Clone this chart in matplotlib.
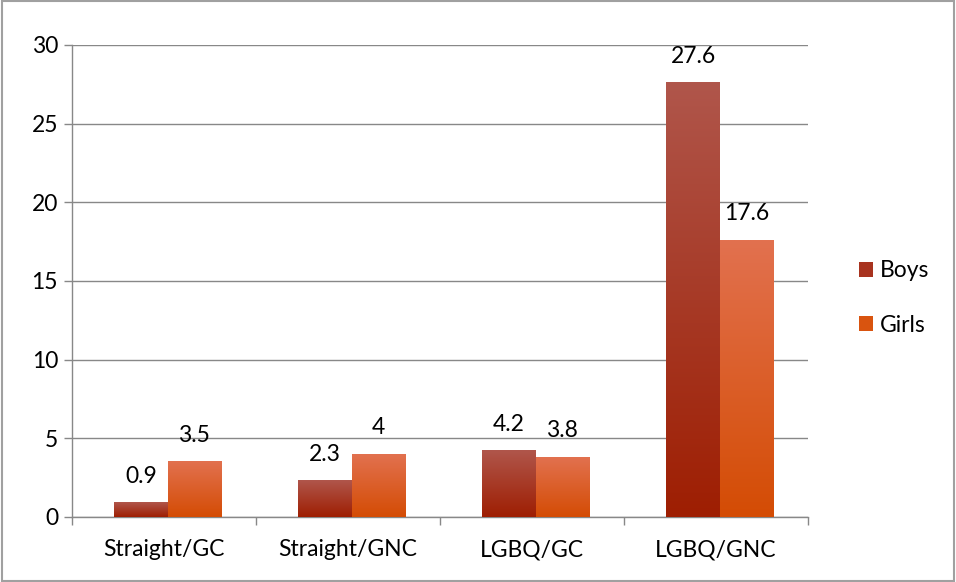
import numpy as np
import matplotlib.pyplot as plt
from matplotlib.patches import Rectangle, Patch
from matplotlib.colors import LinearSegmentedColormap

categories = ['Straight/GC', 'Straight/GNC', 'LGBQ/GC', 'LGBQ/GNC']
boys = [0.9, 2.3, 4.2, 27.6]
girls = [3.5, 4.0, 3.8, 17.6]
series_names = ['Boys', 'Girls']
value_labels_boys = ['0.9', '2.3', '4.2', '27.6']
value_labels_girls = ['3.5', '4', '3.8', '17.6']

plt.rcParams['font.family'] = ['Lato', 'DejaVu Sans']
fs = 16.5

fig = plt.figure(figsize=(9.56, 5.82), dpi=100)
ax = fig.add_axes([0.0753, 0.1117, 0.7700, 0.8110])

# gradient colormaps (bottom -> top)
cmap_boys = LinearSegmentedColormap.from_list('boys', ['#9E1E02', '#B0564B'])
cmap_girls = LinearSegmentedColormap.from_list('girls', ['#D44C04', '#E2714F'])

x = np.arange(len(categories)) + 0.02
w = 0.29
bars_b = ax.bar(x - w / 2, boys, w, color='none', edgecolor='none', zorder=3)
bars_g = ax.bar(x + w / 2, girls, w, color='none', edgecolor='none', zorder=3)

grad = np.linspace(0, 1, 256).reshape(-1, 1)
for bars, cmap in ((bars_b, cmap_boys), (bars_g, cmap_girls)):
    for p in bars:
        x0, y0 = p.get_x(), p.get_y()
        x1, y1 = x0 + p.get_width(), y0 + p.get_height()
        ax.imshow(grad, cmap=cmap, origin='lower', aspect='auto',
                  extent=[x0, x1, y0, y1], zorder=3)

for p, lab in zip(bars_b, value_labels_boys):
    ax.text(p.get_x() + p.get_width() / 2, p.get_height() + 1.0, lab,
            ha='center', va='bottom', fontsize=fs)
for p, lab in zip(bars_g, value_labels_girls):
    ax.text(p.get_x() + p.get_width() / 2, p.get_height() + 1.0, lab,
            ha='center', va='bottom', fontsize=fs)

ax.set_xlim(-0.5, len(categories) - 0.5)
ax.set_ylim(0, 30)
ax.set_yticks(np.arange(0, 31, 5))
ax.set_xticks(np.arange(len(categories)))
ax.set_xticklabels(categories, fontsize=fs)
ax.tick_params(axis='x', length=0, pad=16)
ax.set_xticks(np.arange(-0.5, len(categories), 1), minor=True)
ax.tick_params(axis='x', which='minor', length=6, color='#888888', width=1)
ax.tick_params(axis='y', length=6, color='#888888', width=1, labelsize=fs, pad=4)

ax.grid(axis='y', color='#888888', linewidth=1, zorder=0)
ax.set_axisbelow(True)
for s in ('top', 'right'):
    ax.spines[s].set_visible(False)
for s in ('left', 'bottom'):
    ax.spines[s].set_color('#888888')
    ax.spines[s].set_linewidth(1)

handles = [Patch(facecolor='#A8331F', edgecolor='none'),
           Patch(facecolor='#D9540F', edgecolor='none')]
fig.legend(handles, series_names, loc='center left', bbox_to_anchor=(0.877, 0.488),
           frameon=False, fontsize=fs, handlelength=0.6, handleheight=0.6,
           handletextpad=0.3, labelspacing=1.45)

fig.patches.append(Rectangle((0.002, 0.002), 0.996, 0.996, transform=fig.transFigure,
                             fill=False, edgecolor='#A0A0A0', linewidth=1.5))

plt.savefig('out.png', dpi=100)
